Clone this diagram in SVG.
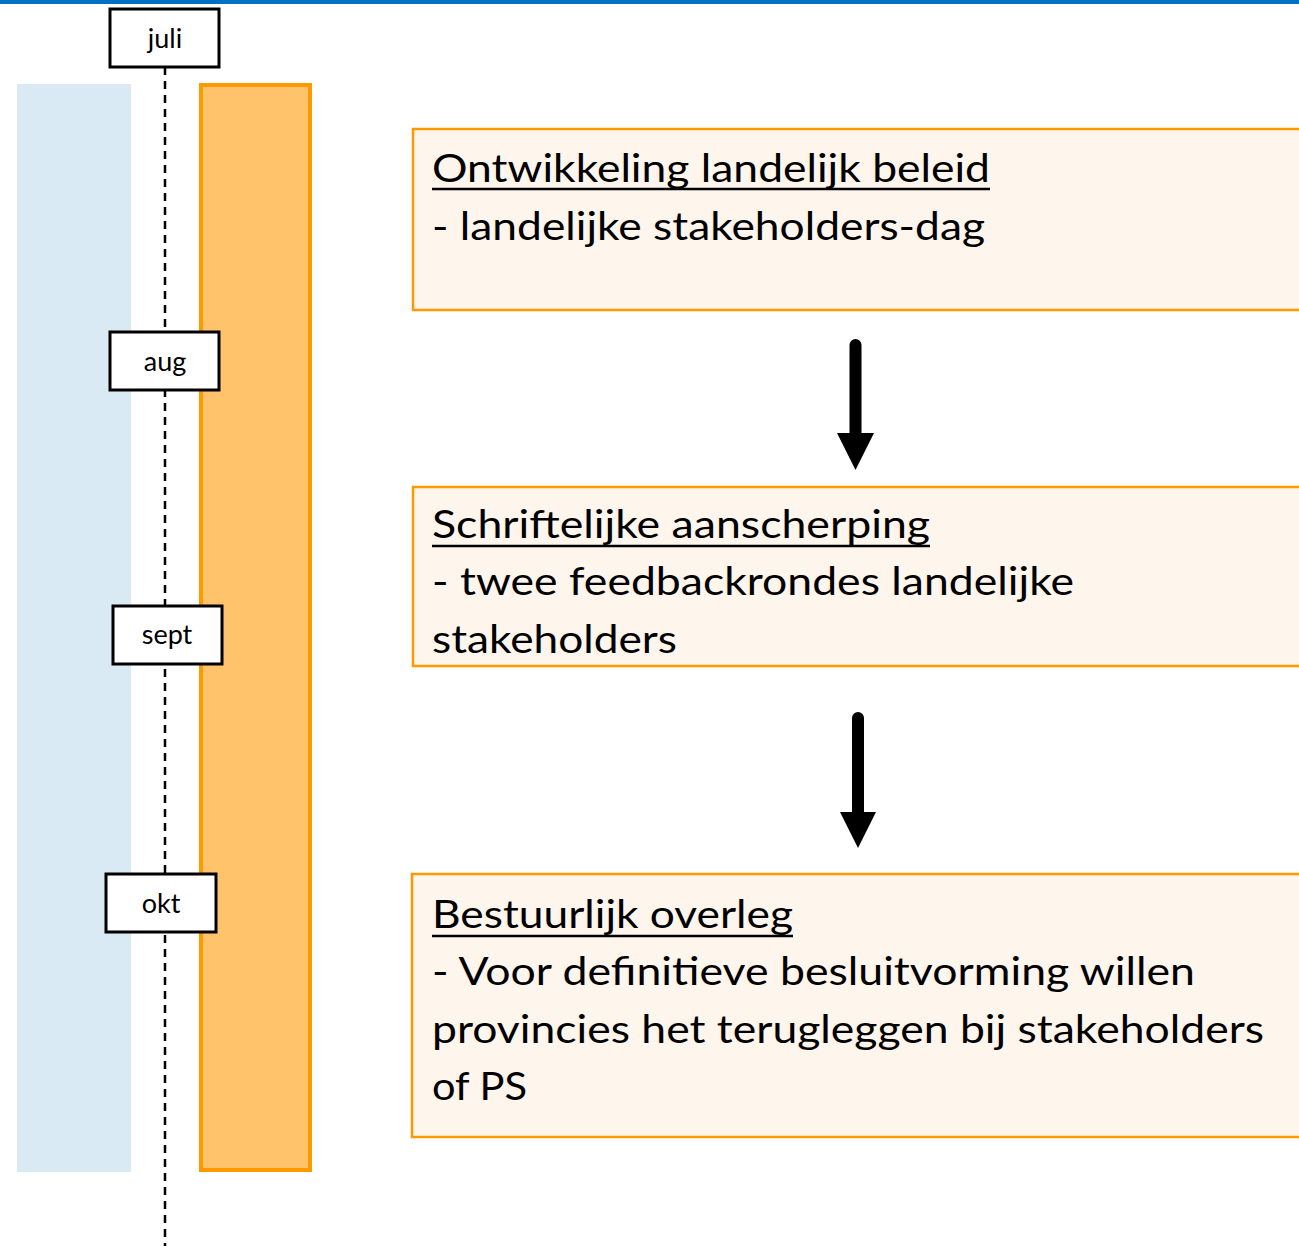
<svg xmlns="http://www.w3.org/2000/svg" width="1299" height="1246" viewBox="0 0 1299 1246">
<style>
.month rect{fill:#fff;stroke:#000;stroke-width:3}
.month text{font-family:Lato,"Open Sans",sans-serif;font-size:27px;fill:#000;text-anchor:middle}
.card rect{fill:#FEF5EC;stroke:#FF9900;stroke-width:2.5}
.card text{font-family:Lato,"Open Sans",sans-serif;font-size:39px;fill:#000}
.card .u{stroke:#000;stroke-width:2.5}
.shaft{stroke:#000;stroke-width:12;stroke-linecap:round}
.head{fill:#000}
</style>
<rect x="0" y="0" width="1299" height="1246" fill="#fff"/>
<rect x="0" y="0" width="1299" height="4" fill="#0070C0"/>
<g id="lane-blue"><rect x="17" y="84" width="114" height="1088" fill="#DAEAF4"/></g>
<g id="lane-orange"><rect x="201" y="85" width="109" height="1085" fill="#FFC36B" stroke="#FF9900" stroke-width="4"/></g>
<g id="timeline"><line x1="165" y1="67" x2="165" y2="1246" stroke="#000" stroke-width="2.5" stroke-dasharray="8,6"/></g>
<g id="m-juli" class="month"><rect x="110" y="9" width="109" height="58"/><text x="165" y="48">juli</text></g>
<g id="m-aug" class="month"><rect x="110" y="332" width="109" height="58"/><text x="165" y="371">aug</text></g>
<g id="m-sept" class="month"><rect x="113" y="606" width="109" height="58"/><text x="167" y="644">sept</text></g>
<g id="m-okt" class="month"><rect x="106" y="874" width="110" height="58"/><text x="161" y="913">okt</text></g>
<g id="card1" class="card">
<rect x="413" y="129" width="900" height="181"/>
<text x="432" y="182" textLength="558" lengthAdjust="spacingAndGlyphs">Ontwikkeling landelijk beleid</text>
<line class="u" x1="432" y1="189" x2="990" y2="189"/>
<text x="432" y="240" textLength="553" lengthAdjust="spacingAndGlyphs">- landelijke stakeholders-dag</text>
</g>
<g id="card2" class="card">
<rect x="413" y="487" width="900" height="179"/>
<text x="432" y="538" textLength="498" lengthAdjust="spacingAndGlyphs">Schriftelijke aanscherping</text>
<line class="u" x1="432" y1="546" x2="930" y2="546"/>
<text x="432" y="595" textLength="642" lengthAdjust="spacingAndGlyphs">- twee feedbackrondes landelijke</text>
<text x="432" y="653" textLength="245" lengthAdjust="spacingAndGlyphs">stakeholders</text>
</g>
<g id="card3" class="card">
<rect x="412" y="874" width="900" height="263"/>
<text x="432" y="928" textLength="361" lengthAdjust="spacingAndGlyphs">Bestuurlijk overleg</text>
<line class="u" x1="432" y1="936" x2="793" y2="936"/>
<text x="432" y="985" textLength="763" lengthAdjust="spacingAndGlyphs">- Voor definitieve besluitvorming willen</text>
<text x="432" y="1043" textLength="832" lengthAdjust="spacingAndGlyphs">provincies het terugleggen bij stakeholders</text>
<text x="432" y="1100" textLength="95" lengthAdjust="spacingAndGlyphs">of PS</text>
</g>
<g id="connectors">
<line class="shaft" x1="855.5" y1="345" x2="855.5" y2="436"/>
<polygon class="head" points="837,433 874,433 855.5,470"/>
<line class="shaft" x1="858" y1="718" x2="858" y2="815"/>
<polygon class="head" points="840,812 876,812 858,848"/>
</g>
</svg>
